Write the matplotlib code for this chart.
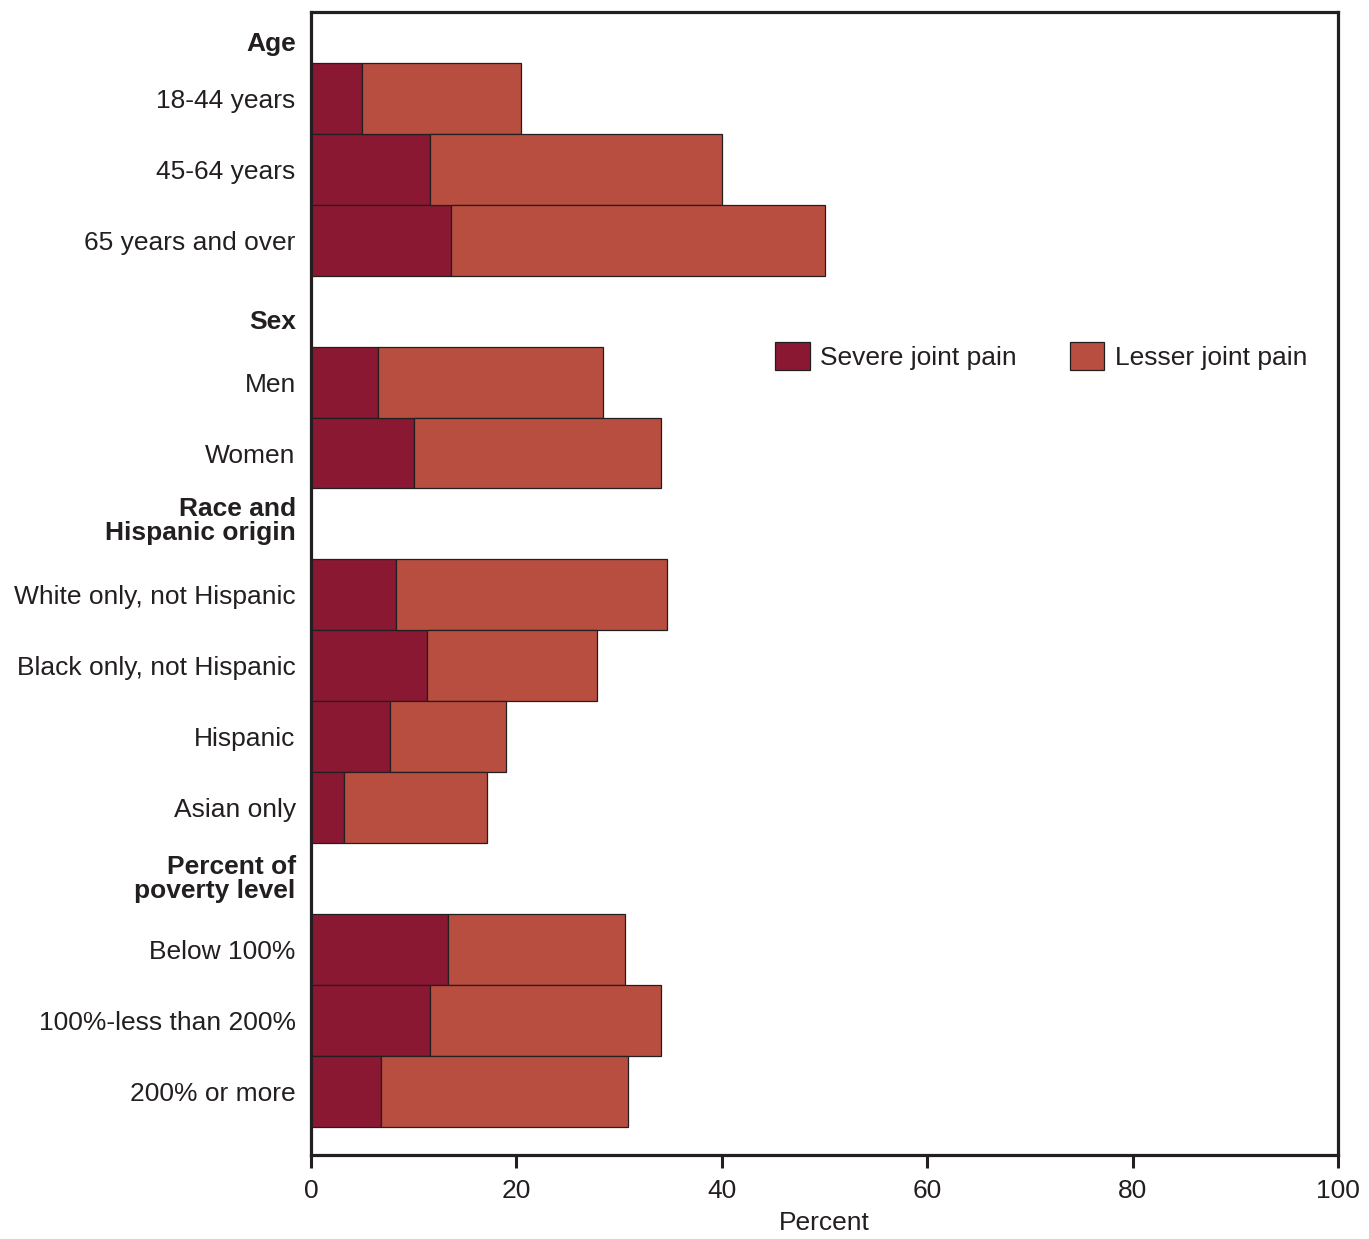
import matplotlib
matplotlib.use("Agg")
import matplotlib.pyplot as plt
import numpy as np

plt.rcParams['font.family'] = ['Liberation Sans', 'DejaVu Sans']

headers = ["Age", "Sex", "Race and\nHispanic origin", "Percent of\npoverty level"]
groups = [
    ["18-44 years", "45-64 years", "65 years and over"],
    ["Men", "Women"],
    ["White only, not Hispanic", "Black only, not Hispanic", "Hispanic", "Asian only"],
    ["Below 100%", "100%-less than 200%", "200% or more"],
]
severe = [5.0, 11.6, 13.6, 6.5, 10.0, 8.3, 11.3, 7.7, 3.2, 13.3, 11.6, 6.8]
lesser = [15.4, 28.4, 36.4, 21.9, 24.1, 26.4, 16.5, 11.3, 13.9, 17.3, 22.5, 24.1]

sev_color = "#8a1833"
les_color = "#b84e40"
dark = "#231f20"
fs = 19

# positions: one slot for header then one slot per bar
bar_pos = []
head_pos = []
labels = []
p = 0
for h, g in zip(headers, groups):
    head_pos.append(p)
    p += 1
    for lab in g:
        bar_pos.append(p)
        labels.append(lab)
        p += 1
# nudge headers a bit like the original
head_off = [0.2, 0.11, -0.07, -0.03]
head_pos = [hp + o for hp, o in zip(head_pos, head_off)]

fig = plt.figure(figsize=(13.69, 12.39), dpi=100)
ax = fig.add_axes([311/1369, 84/1239, 1027/1369, 1143/1239])

sev = np.array(severe)
les = np.array(lesser)
ax.barh(bar_pos, sev, height=1.0, color=sev_color, edgecolor=dark, linewidth=0.9,
        label="Severe joint pain")
ax.barh(bar_pos, les, left=sev, height=1.0, color=les_color, edgecolor=dark,
        linewidth=0.9, label="Lesser joint pain")

ax.set_xlim(0, 100)
ax.set_ylim(15.9, -0.22)
ax.set_xticks(np.arange(0, 101, 20))
ax.tick_params(axis='x', length=9, width=2.2, color=dark, labelsize=fs,
               labelcolor=dark, pad=8)

ticks = list(bar_pos) + head_pos
ticklabels = labels + headers
ax.set_yticks(ticks)
ax.set_yticklabels(ticklabels, fontsize=fs, color=dark)
ax.tick_params(axis='y', length=0, pad=11)
for t in ax.get_yticklabels():
    if t.get_text() in headers:
        t.set_fontweight('bold')
        t.set_linespacing(1.0)

for s in ax.spines.values():
    s.set_linewidth(2.3)
    s.set_color(dark)

ax.set_xlabel("Percent", fontsize=fs, color=dark, labelpad=6)

ax.legend(loc='center', bbox_to_anchor=(0.711, 0.699), ncol=2, frameon=False,
          fontsize=fs, handlelength=1.3, handleheight=1.3, handletextpad=0.4,
          columnspacing=2.0, labelcolor=dark)

fig.savefig("out.png", dpi=100)
